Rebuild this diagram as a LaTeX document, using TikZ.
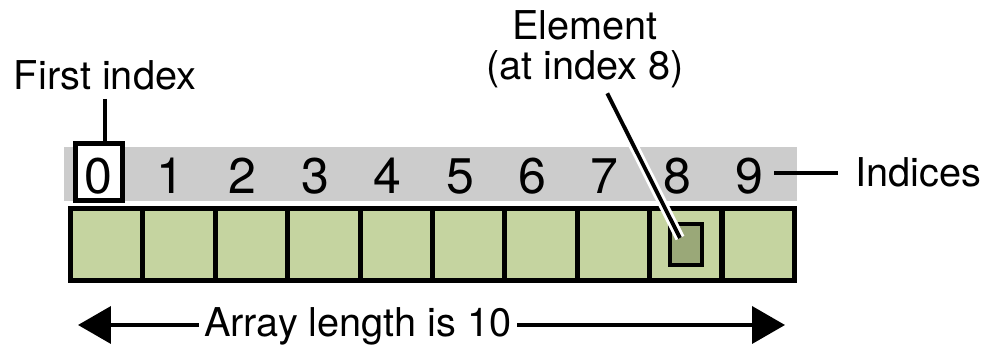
\documentclass[tikz,border=0pt]{standalone}
\usepackage{fontspec}
\setmainfont{TeX Gyre Heros}
\usetikzlibrary{positioning,arrows.meta}

\definecolor{cellgreen}{RGB}{197,212,160}
\definecolor{elemgreen}{RGB}{154,168,120}
\definecolor{bandgray}{RGB}{204,204,204}

\tikzstyle{cell} = [rectangle, draw, fill=cellgreen, line width=2.9pt, minimum width=1.448cm, minimum height=1.44cm, inner sep=0pt]
\tikzstyle{elem} = [rectangle, draw, fill=elemgreen, line width=2.1pt, minimum width=0.64cm, minimum height=0.82cm, inner sep=0pt]
\tikzstyle{band} = [rectangle, fill=bandgray, minimum width=14.66cm, minimum height=1.08cm, inner sep=0pt]
\tikzstyle{firstbox} = [rectangle, draw, fill=white, line width=2.4pt, minimum width=0.94cm, minimum height=1.14cm, inner sep=0pt]
\tikzstyle{digit} = [anchor=base, inner sep=0pt, font=\fontsize{28.5pt}{30pt}\selectfont]
\tikzstyle{lbl} = [inner sep=0pt, font=\fontsize{22.6pt}{22.8pt}\selectfont]
\tikzstyle{lead} = [draw, line width=2.2pt]
\tikzstyle{halo} = [draw, white, line width=5.5pt]
\tikzstyle{span} = [draw, line width=2.2pt, -{Triangle[length=0.66cm, width=0.74cm]}]

\begin{document}
\begin{tikzpicture}[x=0.02cm, y=0.02cm, node distance=1.448cm]
    \useasboundingbox (0,0) rectangle (986,347);

    % grey band behind the indices
    \node [band] (band) at (430.5,173) {};

    % array cells
    \node [cell] (c0) at (106.7,102.5) {};
    \node [cell, right of=c0] (c1) {};
    \node [cell, right of=c1] (c2) {};
    \node [cell, right of=c2] (c3) {};
    \node [cell, right of=c3] (c4) {};
    \node [cell, right of=c4] (c5) {};
    \node [cell, right of=c5] (c6) {};
    \node [cell, right of=c6] (c7) {};
    \node [cell, right of=c7] (c8) {};
    \node [cell, right of=c8] (c9) {};

    % element at index 8
    \node [elem] (element) at (c8) {};

    % box round the first index
    \node [firstbox] (first) at (99,175) {};

    % indices
    \node [digit] (d0) at (98,153) {0};
    \node [digit] (d1) at (170.4,153) {1};
    \node [digit] (d2) at (242.8,153) {2};
    \node [digit] (d3) at (315.2,153) {3};
    \node [digit] (d4) at (387.6,153) {4};
    \node [digit] (d5) at (460,153) {5};
    \node [digit] (d6) at (532.4,153) {6};
    \node [digit] (d7) at (604.8,153) {7};
    \node [digit] (d8) at (677.2,153) {8};
    \node [digit] (d9) at (749.6,153) {9};

    % labels
    \node [lbl, anchor=base] (firstlbl) at (105,257) {First index};
    \node [lbl, align=center, inner sep=3pt] (elemlbl) at (585,298) {Element\\(at index 8)};
    \node [lbl, anchor=base west] (indiceslbl) at (855,160) {Indices};
    \node [lbl, anchor=base, inner xsep=3pt] (lenlbl) at (358,10) {Array length is 10};

    % leaders
    \draw [lead] ([yshift=-4.5pt]firstlbl.south) -- (firstlbl.south |- first.north);
    \coordinate (elemtip) at (680,109);
    \draw [halo] (elemtip) -- (elemlbl);
    \draw [lead] (elemtip) -- (elemlbl);
    \draw [lead] ([xshift=-9.7pt]indiceslbl.west) -- ([xshift=5.7pt]indiceslbl.west -| d9.east);

    % array length
    \coordinate (lenleft) at (78,22);
    \coordinate (lenright) at (785,22);
    \draw [span] (lenlbl.west |- lenleft) -- (lenleft);
    \draw [span] (lenlbl.east |- lenright) -- (lenright);

\end{tikzpicture}
\end{document}
